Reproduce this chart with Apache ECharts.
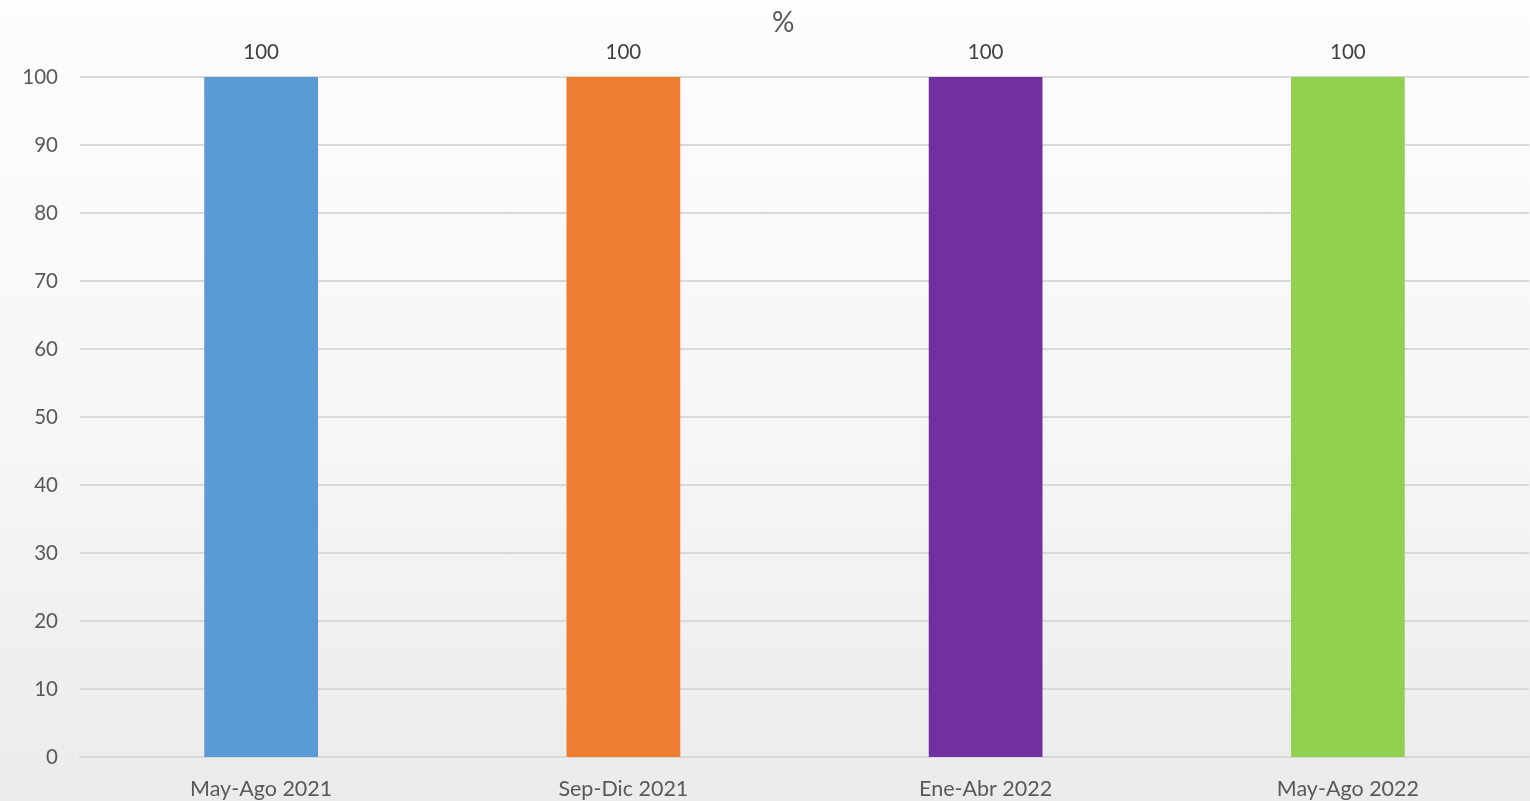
<!DOCTYPE html>
<html>
<head>
<meta charset="utf-8">
<script src="https://cdn.jsdelivr.net/npm/echarts@6/dist/echarts.min.js"></script>
<style>
  html, body { margin: 0; padding: 0; }
  body { background: linear-gradient(180deg, #fdfdfd 0%, #f6f6f6 55%, #ebebec 100%); }
  #chart { width: 1530px; height: 801px; }
</style>
</head>
<body>
<div id="chart"></div>
<script>
// ── Data ───────────────────────────────────────────────
const periods = ['May-Ago 2021', 'Sep-Dic 2021', 'Ene-Abr 2022', 'May-Ago 2022'];
const values = [100, 100, 100, 100];
const barColors = ['#5b9bd5', '#ed7d31', '#7030a0', '#92d050'];

const fontFamily = 'Lato, "Open Sans", sans-serif';

const chart = echarts.init(document.getElementById('chart'), null, { renderer: 'canvas' });
chart.setOption({
  animation: false,
  backgroundColor: 'transparent',
  title: {
    text: '%',
    left: 767, top: 4,
    textStyle: { fontSize: 28, fontWeight: 'normal', color: '#595959', fontFamily }
  },
  grid: { left: 80, right: 1, top: 77, bottom: 44 },
  xAxis: {
    type: 'category',
    data: periods,
    axisLine: { show: true, lineStyle: { color: '#d9d9d9', width: 2 } },
    axisTick: { show: false },
    axisLabel: { fontSize: 21.5, color: '#595959', fontFamily, margin: 21 }
  },
  yAxis: {
    type: 'value',
    min: 0, max: 100, interval: 10,
    axisLine: { show: false },
    axisTick: { show: false },
    axisLabel: { fontSize: 20.5, color: '#595959', fontFamily, margin: 22 },
    splitLine: { lineStyle: { color: '#d9d9d9', width: 2 } }
  },
  series: [{
    type: 'bar',
    data: values.map((v, i) => ({ value: v, itemStyle: { color: barColors[i] } })),
    barWidth: '31.4%',
    label: {
      show: true, position: 'top', distance: 14,
      fontSize: 20.5, color: '#404040', fontFamily
    }
  }]
});
</script>
</body>
</html>
